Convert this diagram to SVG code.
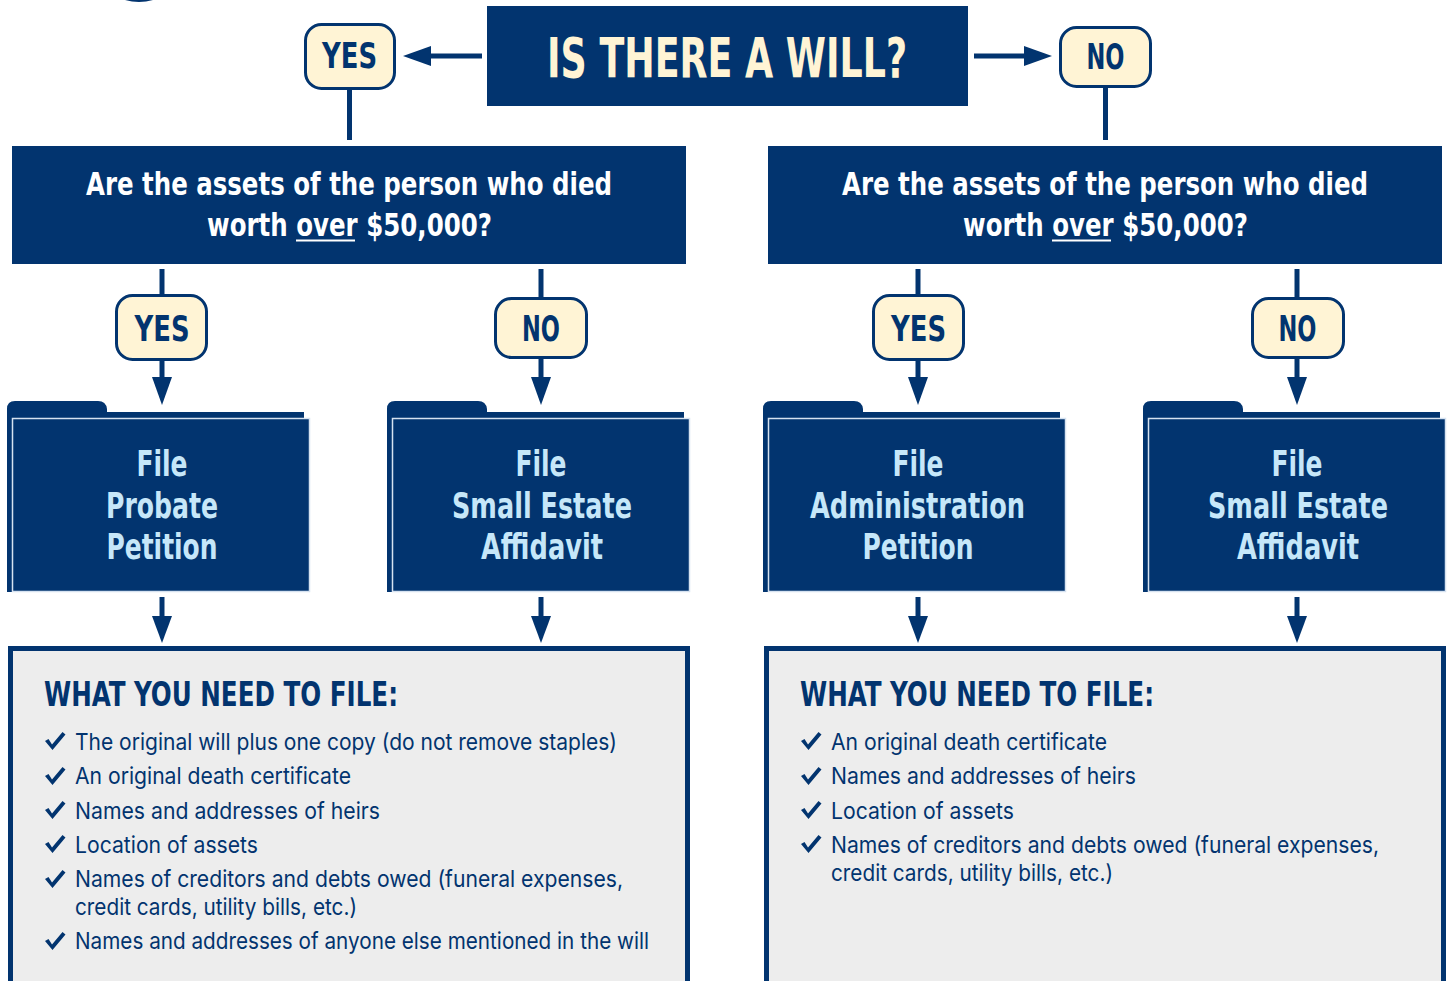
<svg xmlns="http://www.w3.org/2000/svg" width="1448" height="981" viewBox="0 0 1448 981">
<defs>
<style>
.navy{fill:#02346f}
.cond{font-family:"Liberation Sans Narrow","DejaVu Sans Condensed","Liberation Sans",sans-serif;font-weight:bold}
.title{fill:#fff4d5;font-size:55px}
.pill{fill:#fff4d5;stroke:#02346f;stroke-width:3}
.pilltxt{fill:#02346f;font-size:35px}
.q{fill:#ffffff;font-size:32px}
.ftxt{fill:#c6e7f9;font-size:35px}
.front{fill:#02346f;stroke:#d6e2f0;stroke-width:1.5}
.panel{fill:#ededed;stroke:#02346f;stroke-width:5}
.head{fill:#02346f;font-size:33px}
.item{fill:#02346f;font-family:Inter,"Liberation Sans",sans-serif;font-size:23px}
.conn{stroke:#02346f;stroke-width:5;fill:none}
.ah{fill:#02346f}
</style>
<path id="chk" d="M0,8 L3.5,6 L7,11.5 L17.5,-1 L20.5,1.5 L7.5,17 Z" fill="#02346f"/>
</defs>

<!-- top sliver -->
<path d="M125,0 Q139,4 153,0 Z" fill="#02346f"/>

<g id="connectors">
  <line class="conn" x1="482" y1="56" x2="428" y2="56"/>
  <polygon class="ah" points="403,56 431,46 431,66"/>
  <line class="conn" x1="974" y1="56" x2="1027" y2="56"/>
  <polygon class="ah" points="1052,56 1024,46 1024,66"/>
  <line class="conn" x1="349.5" y1="90" x2="349.5" y2="140"/>
  <line class="conn" x1="1105.5" y1="88" x2="1105.5" y2="140"/>
  <line class="conn" x1="162" y1="269" x2="162" y2="294"/>
  <line class="conn" x1="162" y1="361" x2="162" y2="380"/>
  <polygon class="ah" points="162,405 152,377 172,377"/>
  <line class="conn" x1="541" y1="269" x2="541" y2="297"/>
  <line class="conn" x1="541" y1="359" x2="541" y2="380"/>
  <polygon class="ah" points="541,405 531,377 551,377"/>
  <line class="conn" x1="918" y1="269" x2="918" y2="294"/>
  <line class="conn" x1="918" y1="361" x2="918" y2="380"/>
  <polygon class="ah" points="918,405 908,377 928,377"/>
  <line class="conn" x1="1297" y1="269" x2="1297" y2="297"/>
  <line class="conn" x1="1297" y1="359" x2="1297" y2="380"/>
  <polygon class="ah" points="1297,405 1287,377 1307,377"/>
  <line class="conn" x1="162" y1="597" x2="162" y2="619"/>
  <polygon class="ah" points="162,643 152,616 172,616"/>
  <line class="conn" x1="541" y1="597" x2="541" y2="619"/>
  <polygon class="ah" points="541,643 531,616 551,616"/>
  <line class="conn" x1="918" y1="597" x2="918" y2="619"/>
  <polygon class="ah" points="918,643 908,616 928,616"/>
  <line class="conn" x1="1297" y1="597" x2="1297" y2="619"/>
  <polygon class="ah" points="1297,643 1287,616 1307,616"/>
</g>

<g id="title">
  <rect class="navy" x="487" y="6" width="481" height="100"/>
  <text class="cond title" x="727" y="77" text-anchor="middle" textLength="360" lengthAdjust="spacingAndGlyphs">IS THERE A WILL?</text>
</g>

<g id="yes-top">
  <rect class="pill" x="305.5" y="24.5" width="89" height="64" rx="16"/>
  <text class="cond pilltxt" x="349.5" y="68" text-anchor="middle" textLength="55" lengthAdjust="spacingAndGlyphs">YES</text>
</g>
<g id="no-top">
  <rect class="pill" x="1060.5" y="27.5" width="90" height="59" rx="16"/>
  <text class="cond pilltxt" x="1105.5" y="69" text-anchor="middle" textLength="38" lengthAdjust="spacingAndGlyphs">NO</text>
</g>

<g id="q-left">
  <rect class="navy" x="12" y="146" width="674" height="118"/>
  <text class="cond q" x="349" y="195" text-anchor="middle" textLength="526" lengthAdjust="spacingAndGlyphs">Are the assets of the person who died</text>
  <text class="cond q" x="349.5" y="236" text-anchor="middle" textLength="285" lengthAdjust="spacingAndGlyphs">worth over $50,000?</text>
  <rect x="296" y="239.5" width="59" height="2" fill="#ffffff"/>
</g>
<g id="q-right">
  <rect class="navy" x="768" y="146" width="674" height="118"/>
  <text class="cond q" x="1105" y="195" text-anchor="middle" textLength="526" lengthAdjust="spacingAndGlyphs">Are the assets of the person who died</text>
  <text class="cond q" x="1105.5" y="236" text-anchor="middle" textLength="285" lengthAdjust="spacingAndGlyphs">worth over $50,000?</text>
  <rect x="1052" y="239.5" width="59" height="2" fill="#ffffff"/>
</g>

<g id="yes-l">
  <rect class="pill" x="116.5" y="295.5" width="90" height="64" rx="16"/>
  <text class="cond pilltxt" x="162" y="341" text-anchor="middle" textLength="55" lengthAdjust="spacingAndGlyphs">YES</text>
</g>
<g id="no-l">
  <rect class="pill" x="495.5" y="298.5" width="91" height="59" rx="16"/>
  <text class="cond pilltxt" x="541" y="341" text-anchor="middle" textLength="38" lengthAdjust="spacingAndGlyphs">NO</text>
</g>
<g id="yes-r">
  <rect class="pill" x="873.5" y="295.5" width="90" height="64" rx="16"/>
  <text class="cond pilltxt" x="918.5" y="341" text-anchor="middle" textLength="55" lengthAdjust="spacingAndGlyphs">YES</text>
</g>
<g id="no-r">
  <rect class="pill" x="1252.5" y="298.5" width="91" height="59" rx="16"/>
  <text class="cond pilltxt" x="1297.5" y="341" text-anchor="middle" textLength="38" lengthAdjust="spacingAndGlyphs">NO</text>
</g>

<g id="folder-probate">
  <path class="navy" d="M7,592 V409 Q7,401 15,401 H98 Q106,401 107,409 V412 H304 V592 Z"/>
  <rect class="front" x="12.5" y="418.5" width="297" height="173"/>
  <text class="cond ftxt" x="162" y="476" text-anchor="middle" textLength="51" lengthAdjust="spacingAndGlyphs">File</text>
  <text class="cond ftxt" x="162" y="518" text-anchor="middle" textLength="112" lengthAdjust="spacingAndGlyphs">Probate</text>
  <text class="cond ftxt" x="162" y="559" text-anchor="middle" textLength="111" lengthAdjust="spacingAndGlyphs">Petition</text>
</g>
<g id="folder-small-l">
  <path class="navy" d="M387,592 V409 Q387,401 395,401 H478 Q486,401 487,409 V412 H684 V592 Z"/>
  <rect class="front" x="392.5" y="418.5" width="297" height="173"/>
  <text class="cond ftxt" x="541" y="476" text-anchor="middle" textLength="51" lengthAdjust="spacingAndGlyphs">File</text>
  <text class="cond ftxt" x="542" y="518" text-anchor="middle" textLength="180" lengthAdjust="spacingAndGlyphs">Small Estate</text>
  <text class="cond ftxt" x="542" y="559" text-anchor="middle" textLength="122" lengthAdjust="spacingAndGlyphs">Affidavit</text>
</g>
<g id="folder-admin">
  <path class="navy" d="M763,592 V409 Q763,401 771,401 H854 Q862,401 863,409 V412 H1060 V592 Z"/>
  <rect class="front" x="768.5" y="418.5" width="297" height="173"/>
  <text class="cond ftxt" x="918" y="476" text-anchor="middle" textLength="51" lengthAdjust="spacingAndGlyphs">File</text>
  <text class="cond ftxt" x="917.5" y="518" text-anchor="middle" textLength="215" lengthAdjust="spacingAndGlyphs">Administration</text>
  <text class="cond ftxt" x="918" y="559" text-anchor="middle" textLength="111" lengthAdjust="spacingAndGlyphs">Petition</text>
</g>
<g id="folder-small-r">
  <path class="navy" d="M1143,592 V409 Q1143,401 1151,401 H1234 Q1242,401 1243,409 V412 H1440 V592 Z"/>
  <rect class="front" x="1148.5" y="418.5" width="297" height="173"/>
  <text class="cond ftxt" x="1297" y="476" text-anchor="middle" textLength="51" lengthAdjust="spacingAndGlyphs">File</text>
  <text class="cond ftxt" x="1298" y="518" text-anchor="middle" textLength="180" lengthAdjust="spacingAndGlyphs">Small Estate</text>
  <text class="cond ftxt" x="1298" y="559" text-anchor="middle" textLength="122" lengthAdjust="spacingAndGlyphs">Affidavit</text>
</g>

<g id="needs-left">
  <rect class="panel" x="10.5" y="648.5" width="677" height="345"/>
  <text class="cond head" x="44" y="706" textLength="354" lengthAdjust="spacingAndGlyphs">WHAT YOU NEED TO FILE:</text>
  <use href="#chk" x="45" y="733"/>
  <text class="item" x="75" y="750" textLength="542" lengthAdjust="spacingAndGlyphs">The original will plus one copy (do not remove staples)</text>
  <use href="#chk" x="45" y="768"/>
  <text class="item" x="75" y="784" textLength="276" lengthAdjust="spacingAndGlyphs">An original death certificate</text>
  <use href="#chk" x="45" y="802"/>
  <text class="item" x="75" y="819" textLength="305" lengthAdjust="spacingAndGlyphs">Names and addresses of heirs</text>
  <use href="#chk" x="45" y="836"/>
  <text class="item" x="75" y="853" textLength="183" lengthAdjust="spacingAndGlyphs">Location of assets</text>
  <use href="#chk" x="45" y="871"/>
  <text class="item" x="75" y="887" textLength="548" lengthAdjust="spacingAndGlyphs">Names of creditors and debts owed (funeral expenses,</text>
  <text class="item" x="75" y="915" textLength="282" lengthAdjust="spacingAndGlyphs">credit cards, utility bills, etc.)</text>
  <use href="#chk" x="45" y="933"/>
  <text class="item" x="75" y="949" textLength="574" lengthAdjust="spacingAndGlyphs">Names and addresses of anyone else mentioned in the will</text>
</g>
<g id="needs-right">
  <rect class="panel" x="766.5" y="648.5" width="677" height="345"/>
  <text class="cond head" x="800" y="706" textLength="354" lengthAdjust="spacingAndGlyphs">WHAT YOU NEED TO FILE:</text>
  <use href="#chk" x="801" y="733"/>
  <text class="item" x="831" y="750" textLength="276" lengthAdjust="spacingAndGlyphs">An original death certificate</text>
  <use href="#chk" x="801" y="768"/>
  <text class="item" x="831" y="784" textLength="305" lengthAdjust="spacingAndGlyphs">Names and addresses of heirs</text>
  <use href="#chk" x="801" y="802"/>
  <text class="item" x="831" y="819" textLength="183" lengthAdjust="spacingAndGlyphs">Location of assets</text>
  <use href="#chk" x="801" y="836"/>
  <text class="item" x="831" y="853" textLength="548" lengthAdjust="spacingAndGlyphs">Names of creditors and debts owed (funeral expenses,</text>
  <text class="item" x="831" y="881" textLength="282" lengthAdjust="spacingAndGlyphs">credit cards, utility bills, etc.)</text>
</g>
</svg>
